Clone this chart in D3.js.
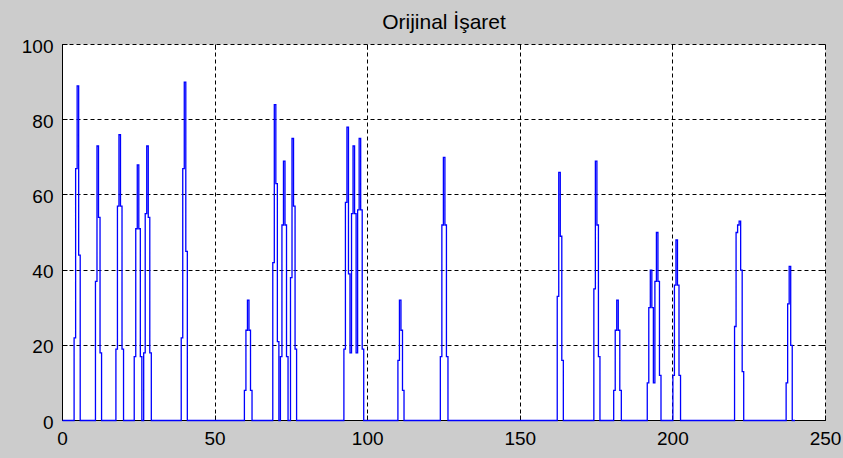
<!DOCTYPE html>
<html>
<head>
<meta charset="utf-8">
<script src="https://cdn.jsdelivr.net/npm/d3@7"></script>
<style>
  body { margin: 0; background: #cccccc; }
  svg { display: block; }
</style>
</head>
<body>
<div id="chart"></div>
<script>
// signal bursts: start position (x units) and levels held for one sample step each
var burstStarts = [3.8, 10.8, 17.5, 23.5, 26.6, 38.9, 59.6, 68.9, 71.4, 74.7,
                   92.2, 109.9, 123.8, 162.1, 174.1, 180.6, 191.6, 200.0, 220.2, 237.1];
var burstLevels = [
    [22, 67, 89, 44],
    [37, 73, 54, 18],
    [19, 57, 76, 57, 19],
    [17, 51, 68, 51, 17],
    [18, 55, 73, 54, 18],
    [22, 67, 90, 45],
    [8, 24, 32, 24, 8],
    [42, 84, 63, 21],
    [17, 52, 69, 52, 17],
    [38, 75, 57, 19],
    [19, 58, 78, 39, 18, 55, 73, 55, 18, 56, 75, 56, 19],
    [16, 32, 24, 8],
    [17, 52, 70, 52, 17],
    [33, 66, 49, 16],
    [35, 69, 52, 17],
    [8, 24, 32, 24, 8],
    [10, 30, 40, 30, 10, 37, 50, 37, 12],
    [12, 36, 48, 36, 12],
    [25, 50, 52, 53, 40, 13],
    [10, 31, 41, 20]
];
var sampleStep = 0.5;
var signalEnd  = 240;

var xTicks = [0, 50, 100, 150, 200, 250];
var yTicks = [0, 20, 40, 60, 80, 100];
var title  = 'Orijinal İşaret';

// build the signal as [x, y] pairs
var signal = [[0, 0]];
burstStarts.forEach(function( s, b ){
    signal.push([ s, 0 ]);
    burstLevels[b].forEach(function( v, i ){
        signal.push([ s + i * sampleStep, v ]);
    });
    signal.push([ s + burstLevels[b].length * sampleStep, 0 ]);
});
signal.push([ signalEnd, 0 ]);

var width  = 843;
var height = 458;
var font   = 'Arial, Liberation Sans, sans-serif';

var svg = d3.select( '#chart' )
    .append( 'svg' )
    .attr( 'width', width )
    .attr( 'height', height );

var x = d3.scaleLinear()
    .domain([ 0, 250 ])
    .range([ 62.5, 825.5 ]);
var y = d3.scaleLinear()
    .domain([ 0, 100 ])
    .range([ 420.5, 44.5 ]);

function px( v ){ return Math.round( v - 0.5 ) + 0.5; }

// axes background
svg.append( 'rect' )
    .attr( 'x', x(0) )
    .attr( 'y', y(100) )
    .attr( 'width', x(250) - x(0) )
    .attr( 'height', y(0) - y(100) )
    .attr( 'fill', '#ffffff' );

// grid
var grid = svg.append( 'g' )
    .attr( 'stroke', '#000' )
    .attr( 'stroke-width', 1 )
    .attr( 'stroke-dasharray', '4,3' );
grid.selectAll( 'line.gx' )
    .data( xTicks.slice( 1 ) )
    .enter()
    .append( 'line' )
    .attr( 'x1', function( d ){ return px( x(d) ); } )
    .attr( 'x2', function( d ){ return px( x(d) ); } )
    .attr( 'y1', y(0) )
    .attr( 'y2', y(100) );
grid.selectAll( 'line.gy' )
    .data( yTicks.slice( 1 ) )
    .enter()
    .append( 'line' )
    .attr( 'x1', x(0) )
    .attr( 'x2', x(250) )
    .attr( 'y1', function( d ){ return px( y(d) ); } )
    .attr( 'y2', function( d ){ return px( y(d) ); } );

// box (left and bottom solid) and inward ticks on all four sides
var tickLen = 5;
var box = svg.append( 'g' )
    .attr( 'stroke', '#000' )
    .attr( 'stroke-width', 1 )
    .attr( 'fill', 'none' );
box.append( 'line' )
    .attr( 'x1', x(0) ).attr( 'x2', x(250) )
    .attr( 'y1', y(0) ).attr( 'y2', y(0) );
box.append( 'line' )
    .attr( 'x1', x(0) ).attr( 'x2', x(0) )
    .attr( 'y1', y(0) ).attr( 'y2', y(100) );
[ y(0), y(100) ].forEach(function( edge, k ){
    box.selectAll( null )
        .data( xTicks )
        .enter()
        .append( 'line' )
        .attr( 'x1', function( d ){ return px( x(d) ); } )
        .attr( 'x2', function( d ){ return px( x(d) ); } )
        .attr( 'y1', edge )
        .attr( 'y2', k === 0 ? edge - tickLen : edge + tickLen );
});
[ x(0), x(250) ].forEach(function( edge, k ){
    box.selectAll( null )
        .data( yTicks )
        .enter()
        .append( 'line' )
        .attr( 'x1', edge )
        .attr( 'x2', k === 0 ? edge + tickLen : edge - tickLen )
        .attr( 'y1', function( d ){ return px( y(d) ); } )
        .attr( 'y2', function( d ){ return px( y(d) ); } );
});

// signal
var line = d3.line()
    .x(function( d ){ return x( d[0] ); })
    .y(function( d ){ return y( d[1] ); })
    .curve( d3.curveStepAfter );
svg.append( 'path' )
    .datum( signal )
    .attr( 'd', line )
    .attr( 'fill', 'none' )
    .attr( 'stroke', '#0000ff' )
    .attr( 'stroke-width', 1.3 );

// tick labels
svg.selectAll( 'text.xl' )
    .data( xTicks )
    .enter()
    .append( 'text' )
    .text(function( d ){ return d; })
    .attr( 'x', function( d ){ return x(d); } )
    .attr( 'y', y(0) + 24 )
    .attr( 'font-family', font )
    .attr( 'font-size', 19 )
    .attr( 'fill', '#000' )
    .attr( 'text-anchor', 'middle' );
svg.selectAll( 'text.yl' )
    .data( yTicks )
    .enter()
    .append( 'text' )
    .text(function( d ){ return d; })
    .attr( 'x', x(0) - 9 )
    .attr( 'y', function( d ){ return y(d) + 8; } )
    .attr( 'font-family', font )
    .attr( 'font-size', 19 )
    .attr( 'fill', '#000' )
    .attr( 'text-anchor', 'end' );

// title
svg.append( 'text' )
    .text( title )
    .attr( 'x', ( x(0) + x(250) ) / 2 )
    .attr( 'y', 29 )
    .attr( 'font-family', font )
    .attr( 'font-size', 21 )
    .attr( 'fill', '#000' )
    .attr( 'text-anchor', 'middle' );
</script>
</body>
</html>
